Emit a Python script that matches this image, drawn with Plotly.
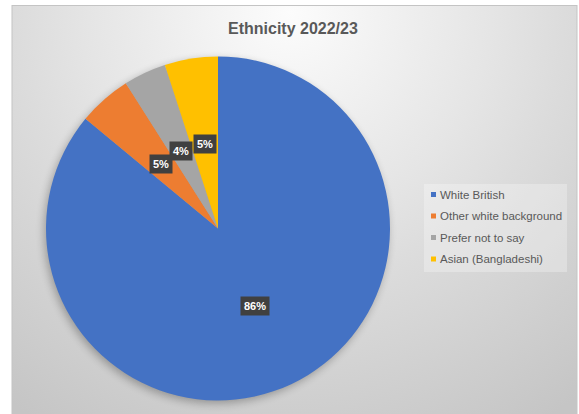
import base64
import math
import plotly.graph_objects as go

# Ethnicity breakdown, 2022/23 (percent of total)
categories = ["White British", "Other white background", "Prefer not to say", "Asian (Bangladeshi)"]
values = [86, 5, 4, 5]
colors = ["#4472C4", "#ED7D31", "#A5A5A5", "#FFC000"]
title_text = "Ethnicity 2022/23"

W, H = 579, 414
# pie geometry in pixels (centre and radius)
CX, CY, R = 218, 228.5, 172

# chart-area background: soft radial gradient plus a blurred drop shadow under the pie
svg = f'''<svg xmlns="http://www.w3.org/2000/svg" width="{W}" height="{H}" viewBox="0 0 {W} {H}" preserveAspectRatio="none">
<defs>
<radialGradient id="g" gradientUnits="userSpaceOnUse" cx="290" cy="12" r="480">
<stop offset="0" stop-color="#fcfcfc"/>
<stop offset="0.42" stop-color="#e5e5e5"/>
<stop offset="0.57" stop-color="#dcdcdc"/>
<stop offset="1" stop-color="#c5c5c5"/>
</radialGradient>
<filter id="s" x="-20%" y="-20%" width="140%" height="140%"><feGaussianBlur stdDeviation="4"/></filter>
</defs>
<rect x="12" y="5.5" width="565" height="409" fill="url(#g)" stroke="#c4c4c4" stroke-width="1"/>
<circle cx="{CX - 2}" cy="{CY + 3}" r="{R}" fill="#000" opacity="0.28" filter="url(#s)"/>
</svg>'''
bg_src = "data:image/svg+xml;base64," + base64.b64encode(svg.encode()).decode()

fig = go.Figure(go.Pie(
    labels=categories,
    values=values,
    marker=dict(colors=colors, line=dict(width=0)),
    sort=False,
    direction="clockwise",
    rotation=0,
    textinfo="none",
    hoverinfo="label+percent",
    showlegend=False,
    domain=dict(x=[(CX - R) / W, (CX + R) / W], y=[(H - CY - R) / H, (H - CY + R) / H]),
))

# data labels in dark boxes, half way out along each slice's mid angle
annotations = []
total = sum(values)
cum = 0
for v in values:
    mid = (cum + v / 2) / total * 2 * math.pi
    cum += v
    px = CX + 0.5 * R * math.sin(mid)
    py = CY - 0.5 * R * math.cos(mid)
    annotations.append(dict(
        x=px / W, y=1 - py / H, xref="paper", yref="paper",
        text=f"<b>{round(v / total * 100)}%</b>", showarrow=False,
        font=dict(family="Liberation Sans, Arial, sans-serif", size=11, color="white"),
        bgcolor="#404040", borderpad=3, xanchor="center", yanchor="middle",
    ))

# legend: coloured squares with labels
shapes = [dict(type="rect", xref="paper", yref="paper",
               x0=424 / W, x1=567 / W, y0=1 - 272 / H, y1=1 - 184 / H,
               fillcolor="rgba(255,255,255,0.28)", line=dict(width=0), layer="below")]
leg_top, leg_step = 194.5, 21.5
for i, (name, col) in enumerate(zip(categories, colors)):
    yc = leg_top + i * leg_step
    shapes.append(dict(type="rect", xref="paper", yref="paper",
                       x0=431 / W, x1=436 / W, y0=1 - (yc + 2.5) / H, y1=1 - (yc - 2.5) / H,
                       fillcolor=col, line=dict(width=0)))
    annotations.append(dict(
        x=438 / W, y=1 - yc / H, xref="paper", yref="paper", text=name,
        showarrow=False, xanchor="left", yanchor="middle",
        font=dict(family="Liberation Sans, Arial, sans-serif", size=11.5, color="#595959"),
    ))

# chart title
annotations.append(dict(
    x=293 / W, y=1 - 29 / H, xref="paper", yref="paper", text=f"<b>{title_text}</b>",
    showarrow=False, xanchor="center", yanchor="middle",
    font=dict(family="Liberation Sans, Arial, sans-serif", size=16, color="#595959"),
))

fig.update_layout(
    width=W, height=H,
    margin=dict(l=0, r=0, t=0, b=0),
    paper_bgcolor="white",
    plot_bgcolor="white",
    images=[dict(source=bg_src, xref="paper", yref="paper", x=0, y=1,
                 sizex=1, sizey=1, sizing="stretch", xanchor="left", yanchor="top",
                 layer="below")],
    annotations=annotations,
    shapes=shapes,
)

fig.write_html("out.html")
